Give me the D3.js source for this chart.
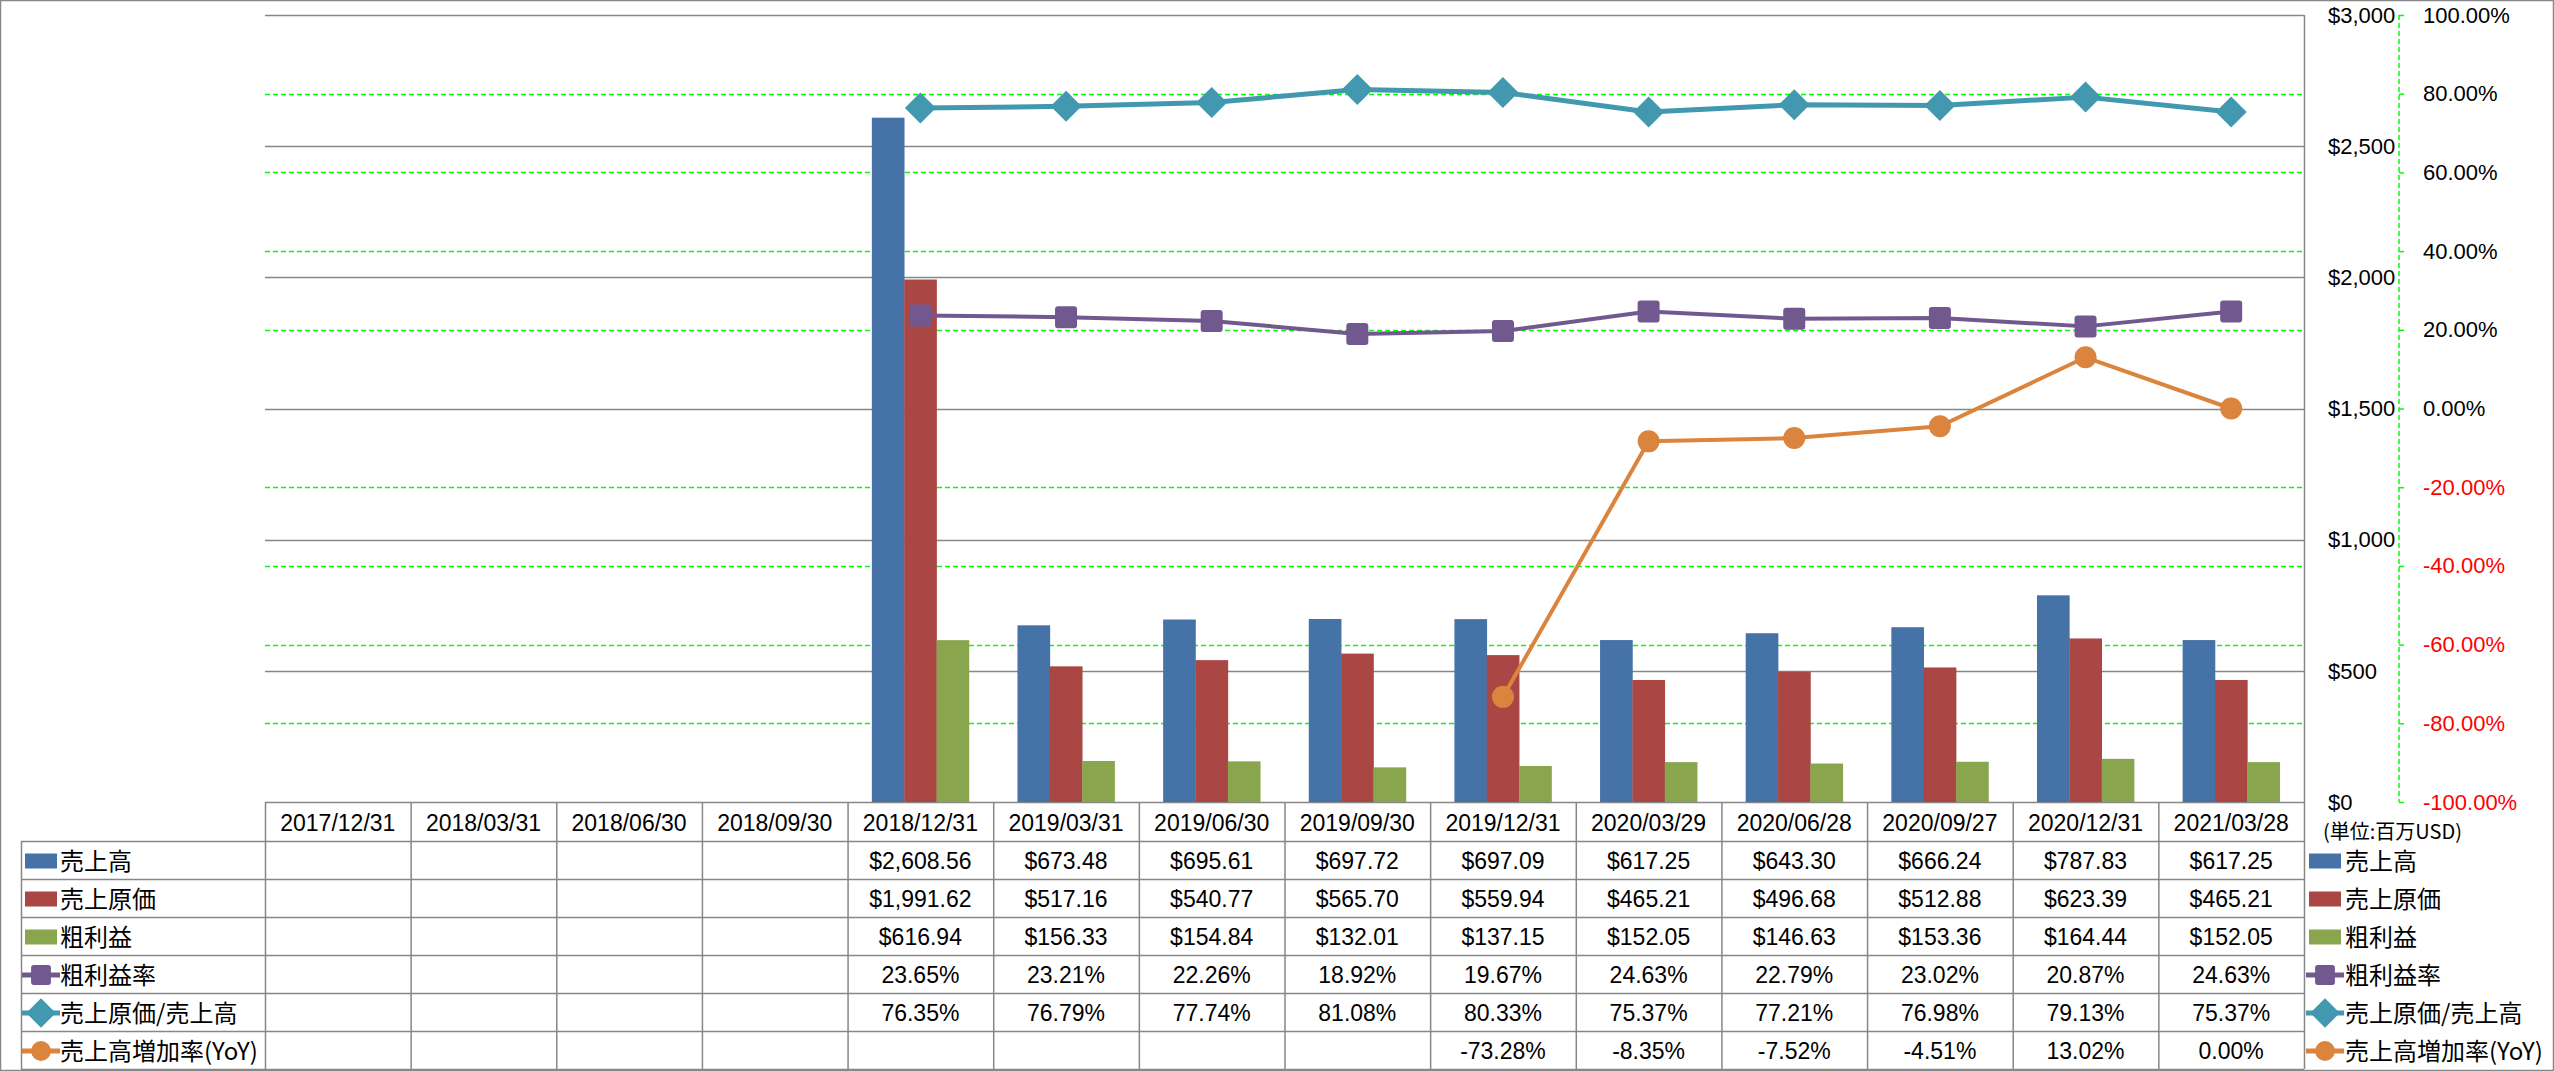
<!DOCTYPE html>
<html><head><meta charset="utf-8">
<script src="https://cdn.jsdelivr.net/npm/d3@7"></script>
<style>
html,body{margin:0;padding:0;background:#fff;}
svg{display:block;}
text{font-family:"Liberation Sans",Arial,sans-serif;}
.jp{font-family:"Noto Sans CJK JP","Liberation Sans",sans-serif;}
</style></head><body>
<svg id="c" width="2554" height="1071"></svg>
<script>
const dates = ['2017/12/31','2018/03/31','2018/06/30','2018/09/30','2018/12/31','2019/03/31','2019/06/30','2019/09/30','2019/12/31','2020/03/29','2020/06/28','2020/09/27','2020/12/31','2021/03/28'];
const revenue = [null,null,null,null,2608.56,673.48,695.61,697.72,697.09,617.25,643.30,666.24,787.83,617.25];
const cogs = [null,null,null,null,1991.62,517.16,540.77,565.70,559.94,465.21,496.68,512.88,623.39,465.21];
const grossProfit = [null,null,null,null,616.94,156.33,154.84,132.01,137.15,152.05,146.63,153.36,164.44,152.05];
const grossMargin = [null,null,null,null,23.65,23.21,22.26,18.92,19.67,24.63,22.79,23.02,20.87,24.63];
const cogsRatio = [null,null,null,null,76.35,76.79,77.74,81.08,80.33,75.37,77.21,76.98,79.13,75.37];
const yoy = [null,null,null,null,null,null,null,null,-73.28,-8.35,-7.52,-4.51,13.02,0.00];
const seriesNames = ['売上高','売上原価','粗利益','粗利益率','売上原価/売上高','売上高増加率(YoY)'];
const leftTicks = [0,500,1000,1500,2000,2500,3000];
const rightTicks = [-100,-80,-60,-40,-20,0,20,40,60,80,100];
const unitLabel = '(単位:百万USD)';

const colors = ['#4572A7','#AA4643','#89A54E','#71588F','#4198AF','#DB843D'];
const GRID = '#878787';
const svg = d3.select('#c');

const L = 265, R = 2304, T = 15, B = 802;
const x = d3.scaleBand().domain(dates).range([L, R]).padding(0);
const xi = d3.scaleBand().domain([0,1,2]).range([0, x.bandwidth()]).paddingInner(0).paddingOuter(0.75);
const yL = d3.scaleLinear().domain([0,3000]).range([B, T]);
const yR = d3.scaleLinear().domain([-100,100]).range([B, T]);

// outer border
svg.append('rect').attr('x',0.5).attr('y',0.5).attr('width',2553).attr('height',1070)
  .attr('fill','none').attr('stroke',GRID).attr('stroke-width',1.5);

// green dashed gridlines (right axis), skipping those that coincide with solid gridlines
svg.append('g').selectAll('line').data(rightTicks.filter(d=>d!==100&&d!==0&&d!==-100)).join('line')
  .attr('x1',L).attr('x2',R).attr('y1',d=>Math.round(yR(d))+0.5).attr('y2',d=>Math.round(yR(d))+0.5)
  .attr('stroke','#00FF00').attr('stroke-width',1.5).attr('stroke-dasharray','5,3');

// gray solid gridlines (left axis)
svg.append('g').selectAll('line').data(leftTicks).join('line')
  .attr('x1',L).attr('x2',R).attr('y1',d=>Math.round(yL(d))+0.5).attr('y2',d=>Math.round(yL(d))+0.5)
  .attr('stroke',GRID).attr('stroke-width',1.5);

// value axis line at right of plot
svg.append('line').attr('x1',R+0.5).attr('x2',R+0.5).attr('y1',T).attr('y2',1069)
  .attr('stroke',GRID).attr('stroke-width',1.5);

// $ axis labels
const fmtD = d3.format('$,');
svg.append('g').selectAll('text').data(leftTicks).join('text')
  .attr('x',2328).attr('y',d=>yL(d)).attr('dy','0.35em')
  .attr('font-size',22).attr('fill','#000').text(d=>fmtD(d));

// green right axis
const gR = svg.append('g').attr('transform',`translate(2399,0)`);
const axR = d3.axisRight(yR).tickValues(rightTicks).tickSize(5).tickPadding(20)
  .tickFormat(d=>d.toFixed(2)+'%');
gR.call(axR);
gR.select('.domain').attr('stroke','#00FF00').attr('stroke-width',1.5).attr('stroke-dasharray','5,3')
  .attr('d',`M0,${T}V${B}`);
gR.selectAll('.tick line').attr('stroke','#00FF00').attr('stroke-width',1.5);
gR.selectAll('.tick text').attr('font-size',22).attr('font-family','"Liberation Sans",Arial,sans-serif')
  .attr('fill',d=>d<0?'#FF0000':'#000').attr('x',24).attr('text-anchor','start');

svg.append('text').attr('class','jp').attr('x',2323).attr('y',832).attr('dy','0.35em')
  .attr('font-size',20).attr('fill','#000').text(unitLabel);

// bars
const barSeries = [revenue, cogs, grossProfit];
barSeries.forEach((arr,si)=>{
  svg.append('g').selectAll('rect').data(dates.map((d,i)=>({d,v:arr[i]})).filter(o=>o.v!=null)).join('rect')
    .attr('x',o=>x(o.d)+xi(si)).attr('width',xi.bandwidth()+0.3)
    .attr('y',o=>yL(o.v)).attr('height',o=>B-yL(o.v)).attr('fill',colors[si]);
});

// lines
function drawLine(arr,color,width,marker){
  const pts = dates.map((d,i)=>({d,v:arr[i]})).filter(o=>o.v!=null);
  const line = d3.line().x(o=>x(o.d)+x.bandwidth()/2).y(o=>yR(o.v));
  svg.append('path').datum(pts).attr('d',line).attr('fill','none')
    .attr('stroke',color).attr('stroke-width',width).attr('stroke-linejoin','round');
  const g = svg.append('g');
  pts.forEach(o=>marker(g,x(o.d)+x.bandwidth()/2,yR(o.v),1));
}
function sqMarker(g,cx,cy,s){const w=22*s;g.append('rect').attr('x',cx-w/2).attr('y',cy-w/2).attr('width',w).attr('height',w).attr('rx',3*s).attr('fill',colors[3]);}
function dmMarker(g,cx,cy,s){const h=15.5*s;g.append('path').attr('d',`M${cx},${cy-h}L${cx+h},${cy}L${cx},${cy+h}L${cx-h},${cy}Z`).attr('fill',colors[4]);}
function ciMarker(g,cx,cy,s){g.append('circle').attr('cx',cx).attr('cy',cy).attr('r',11*s).attr('fill',colors[5]);}
drawLine(grossMargin,colors[3],4,sqMarker);
drawLine(cogsRatio,colors[4],5,dmMarker);
drawLine(yoy,colors[5],4,ciMarker);

// data table
const rowTop = 841, rowH = 38, tblLeft = 21;
const tg = svg.append('g');
d3.range(7).forEach(i=>{
  const yy = rowTop + i*rowH + 0.5;
  tg.append('line').attr('x1',tblLeft).attr('x2',R).attr('y1',yy).attr('y2',yy).attr('stroke',GRID).attr('stroke-width',1.5);
});
tg.append('line').attr('x1',tblLeft+0.5).attr('x2',tblLeft+0.5).attr('y1',rowTop).attr('y2',rowTop+6*rowH).attr('stroke',GRID).attr('stroke-width',1.5);
dates.forEach(d=>{
  tg.append('line').attr('x1',x(d)+0.5).attr('x2',x(d)+0.5).attr('y1',B).attr('y2',rowTop+6*rowH).attr('stroke',GRID).attr('stroke-width',1.5);
});
tg.selectAll('text.h').data(dates).join('text').attr('class','h')
  .attr('x',d=>x(d)+x.bandwidth()/2).attr('y',(B+rowTop)/2+1).attr('dy','0.35em')
  .attr('text-anchor','middle').attr('font-size',23).attr('fill','#000').text(d=>d);
const fmtM = d3.format('$,.2f');
const rows = [revenue,cogs,grossProfit,grossMargin,cogsRatio,yoy];
rows.forEach((arr,ri)=>{
  const cy = rowTop + ri*rowH + rowH/2 + 1;
  tg.append('g').selectAll('text').data(dates.map((d,i)=>({d,v:arr[i]})).filter(o=>o.v!=null)).join('text')
    .attr('x',o=>x(o.d)+x.bandwidth()/2).attr('y',cy).attr('dy','0.35em')
    .attr('text-anchor','middle').attr('font-size',23).attr('fill','#000')
    .text(o=>ri<3?fmtM(o.v):o.v.toFixed(2)+'%');
});

function legendKey(g,x0,cy,i){
  if(i<3){ g.append('rect').attr('x',x0).attr('y',cy-7.5).attr('width',32).attr('height',15).attr('fill',colors[i]); }
  else {
    g.append('line').attr('x1',x0-3).attr('x2',x0+35).attr('y1',cy).attr('y2',cy).attr('stroke',colors[i]).attr('stroke-width',5);
    const cx = x0+16;
    if(i===3) sqMarker(g,cx,cy,0.9); else if(i===4) dmMarker(g,cx,cy,0.95); else ciMarker(g,cx,cy,0.9);
  }
}
seriesNames.forEach((n,i)=>{
  const cy = rowTop + i*rowH + rowH/2 + 1;
  legendKey(tg,25,cy,i);
  tg.append('text').attr('class','jp').attr('x',60).attr('y',cy).attr('dy','0.36em')
    .attr('font-size',24).attr('fill','#000').text(n);
  legendKey(svg,2309,cy,i);
  svg.append('text').attr('class','jp').attr('x',2345).attr('y',cy).attr('dy','0.36em')
    .attr('font-size',24).attr('fill','#000').text(n);
});
</script></body></html>
